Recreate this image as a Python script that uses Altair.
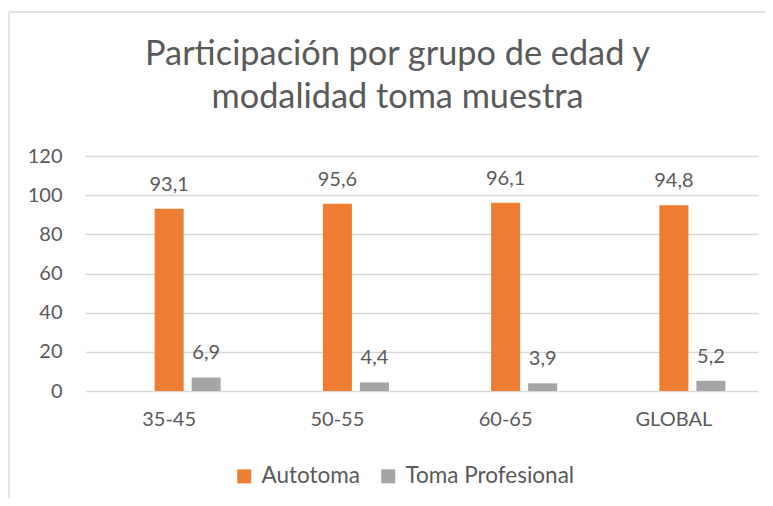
import altair as alt
import pandas as pd

categories = ["35-45", "50-55", "60-65", "GLOBAL"]
series = ["Autotoma", "Toma Profesional"]
autotoma = [93.1, 95.6, 96.1, 94.8]
profesional = [6.9, 4.4, 3.9, 5.2]
y_ticks = [0, 20, 40, 60, 80, 100, 120]
colors = ["#ED7D31", "#A5A5A5"]
title_lines = ["Participación por grupo de edad y", "modalidad toma muestra"]

rows = []
for c, a, p in zip(categories, autotoma, profesional):
    rows.append({"grupo": c, "serie": series[0], "valor": a})
    rows.append({"grupo": c, "serie": series[1], "valor": p})
df = pd.DataFrame(rows)

FONT = "Lato"
TXT = "#595959"
W, H = 673, 235

x_enc = alt.X("grupo:N", sort=categories, title=None,
              scale=alt.Scale(paddingInner=0, paddingOuter=0),
              axis=alt.Axis(labelAngle=0, domain=False, ticks=False, labelPadding=18,
                            labelFontSize=20, labelColor=TXT, labelFont=FONT))
xo_enc = alt.XOffset("serie:N",
                     scale=alt.Scale(domain=[""] + series, paddingInner=0.216, paddingOuter=0.88))
y_enc = alt.Y("valor:Q", title=None,
              scale=alt.Scale(domain=[0, 120], nice=False),
              axis=alt.Axis(values=y_ticks, domain=False, ticks=False, labelPadding=23,
                            labelFontSize=20, labelColor=TXT, labelFont=FONT,
                            grid=True, gridColor="#D9D9D9", gridWidth=1.3))

base = alt.Chart(df).transform_calculate(
    etiqueta="replace(format(datum.valor, '.1f'), '.', ',')"
)

bars = base.mark_bar().encode(
    x=x_enc, xOffset=xo_enc, y=y_enc,
    color=alt.Color("serie:N", scale=alt.Scale(domain=series, range=colors),
                    legend=alt.Legend(title=None, orient="none", legendX=148, legendY=309,
                                      direction="horizontal", symbolType="square",
                                      symbolSize=196, symbolStrokeWidth=0,
                                      labelFontSize=22.5, labelColor=TXT, labelFont=FONT,
                                      labelLimit=400, labelOffset=6, columnPadding=16)),
)

labels = base.mark_text(baseline="bottom", dy=-14, fontSize=20, font=FONT, color=TXT).encode(
    x=x_enc, xOffset=xo_enc, y=y_enc, text="etiqueta:N"
)

border_data = alt.Data(values=[{}])
left_border = alt.Chart(border_data).mark_rule(color="#D9D9D9", strokeWidth=1.5).encode(
    x=alt.value(-76), y=alt.value(-144), y2=alt.value(400)
)
top_border = alt.Chart(border_data).mark_rule(color="#D9D9D9", strokeWidth=1.5).encode(
    x=alt.value(-76), x2=alt.value(720), y=alt.value(-144)
)

chart = alt.layer(left_border, top_border, bars, labels).properties(
    width=W, height=H,
    autosize=alt.AutoSizeParams(type="none"),
    padding={"left": 77, "top": 148, "right": 7, "bottom": 107},
    background="white",
    title=alt.Title(title_lines, fontSize=34.3, font=FONT, fontWeight="normal", color=TXT,
                    anchor="middle", dx=-24, offset=0, dy=104, lineHeight=43),
).configure_view(stroke=None)

chart.save("out.html", embed_options={"renderer": "svg", "actions": False})
